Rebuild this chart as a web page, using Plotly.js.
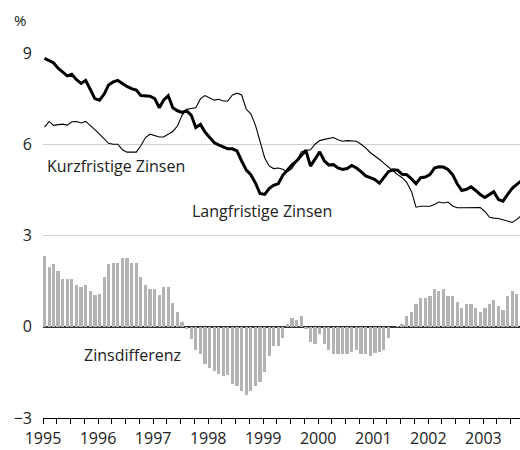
<!DOCTYPE html>
<html>
<head>
<meta charset="utf-8">
<script src="https://cdn.plot.ly/plotly-3.0.1.min.js"></script>
<style>
html,body{margin:0;padding:0;background:#fff;}
#chart{width:520px;height:450px;}
</style>
</head>
<body>
<div id="chart"></div>
<script>
// Monthly series, January 1995 to September 2003
const firstYear = 1995;
const firstMonth = 0;

// Langfristige Zinsen (long-term rates, thick line), %
const longRates = [
  8.82, 8.75, 8.68, 8.50, 8.38, 8.25, 8.30, 8.12, 8.00, 8.10, 7.80, 7.50,
  7.45, 7.65, 7.95, 8.05, 8.10, 8.00, 7.90, 7.83, 7.78, 7.60, 7.60, 7.58,
  7.50, 7.20, 7.45, 7.60, 7.20, 7.10, 7.05, 7.10, 6.95, 6.55, 6.65, 6.40,
  6.22, 6.05, 5.98, 5.90, 5.85, 5.85, 5.78, 5.45, 5.15, 5.00, 4.72, 4.38,
  4.35, 4.55, 4.65, 4.70, 4.98, 5.15, 5.32, 5.45, 5.62, 5.80, 5.28, 5.50,
  5.75, 5.45, 5.32, 5.33, 5.22, 5.17, 5.20, 5.30, 5.22, 5.10, 4.96, 4.90,
  4.84, 4.72, 4.90, 5.10, 5.16, 5.15, 5.01, 5.00, 4.86, 4.70, 4.90, 4.92,
  5.00, 5.22, 5.26, 5.25, 5.17, 5.00, 4.70, 4.48, 4.52, 4.60, 4.48, 4.35,
  4.25, 4.35, 4.44, 4.18, 4.13, 4.35, 4.55, 4.68, 4.80
];

// Kurzfristige Zinsen (short-term rates, thin line), %
const shortRates = [
  6.56, 6.75, 6.62, 6.64, 6.66, 6.63, 6.74, 6.75, 6.70, 6.75, 6.62, 6.48,
  6.33, 6.18, 6.03, 6.00, 6.00, 5.82, 5.74, 5.74, 5.74, 5.95, 6.22, 6.33,
  6.29, 6.24, 6.24, 6.34, 6.42, 6.60, 6.95, 7.15, 7.18, 7.20, 7.50, 7.60,
  7.52, 7.45, 7.48, 7.42, 7.42, 7.62, 7.68, 7.62, 7.15, 7.00, 6.62, 6.05,
  5.55, 5.28, 5.20, 5.22, 5.18, 5.10, 5.20, 5.45, 5.75, 5.80, 5.82, 6.00,
  6.12, 6.16, 6.20, 6.22, 6.15, 6.10, 6.12, 6.12, 6.10, 6.00, 5.88, 5.73,
  5.62, 5.50, 5.38, 5.24, 5.13, 5.00, 4.90, 4.74, 4.45, 3.93, 3.96, 3.96,
  3.96, 4.02, 4.10, 4.07, 4.10, 3.97, 3.91, 3.91, 3.91, 3.91, 3.91, 3.92,
  3.79, 3.60, 3.57, 3.56, 3.52, 3.47, 3.43, 3.53, 3.66
];

// Zinsdifferenz (spread, bars), percentage points
const spread = [
  2.32, 1.97, 2.05, 1.84, 1.57, 1.57, 1.57, 1.37, 1.30, 1.37, 1.17, 1.03,
  1.09, 1.63, 2.05, 2.10, 2.10, 2.25, 2.25, 2.10, 2.10, 1.63, 1.37, 1.24,
  1.24, 1.03, 1.30, 1.30, 0.77, 0.49, 0.15, -0.07, -0.41, -0.76, -0.89, -1.23,
  -1.37, -1.44, -1.56, -1.63, -1.60, -1.87, -1.96, -2.10, -2.23, -2.10, -1.96, -1.80,
  -1.50, -0.96, -0.63, -0.63, -0.36, 0.08, 0.28, 0.22, 0.35, -0.09, -0.50, -0.57,
  -0.24, -0.57, -0.77, -0.89, -0.89, -0.89, -0.89, -0.82, -0.77, -0.89, -0.89, -0.96,
  -0.87, -0.82, -0.76, -0.36, 0.00, 0.02, 0.08, 0.34, 0.47, 0.74, 0.95, 0.95,
  1.02, 1.23, 1.16, 1.23, 1.02, 1.02, 0.82, 0.61, 0.74, 0.74, 0.61, 0.47,
  0.61, 0.74, 0.89, 0.68, 0.55, 1.02, 1.16, 1.08, 1.10
];

const yTickVals = [-3, 0, 3, 6, 9];
const yTickText = ['\u22123', '0', '3', '6', '9'];

const labelShort = 'Kurzfristige Zinsen';
const labelLong = 'Langfristige Zinsen';
const labelSpread = 'Zinsdifferenz';
const unitLabel = '%';

// month positions (placed a third into each month, like the source bars)
function pad(n){ return (n < 10 ? '0' : '') + n; }
const dates = longRates.map(function(_, i){
  const d = new Date(Date.UTC(firstYear, firstMonth + i, 11));
  return d.getUTCFullYear() + '-' + pad(d.getUTCMonth() + 1) + '-' + pad(d.getUTCDate());
});

const FONT = '"Open Sans", "Noto Sans", sans-serif';
const DAY = 86400000;

const traces = [
  {
    type: 'bar', x: dates, y: spread,
    width: 22 * DAY,
    marker: {color: '#b3b3b3', line: {width: 0}},
    hoverinfo: 'skip'
  },
  {
    type: 'scatter', mode: 'lines', x: dates, y: shortRates,
    line: {color: '#000', width: 1.1},
    hoverinfo: 'skip'
  },
  {
    type: 'scatter', mode: 'lines', x: dates, y: longRates,
    line: {color: '#000', width: 3},
    hoverinfo: 'skip'
  }
];

const layout = {
  width: 520, height: 450,
  margin: {l: 43, r: 0, t: 53, b: 32},
  paper_bgcolor: '#fff', plot_bgcolor: '#fff',
  showlegend: false,
  bargap: 0,
  font: {family: FONT, size: 16, color: '#222'},
  xaxis: {
    type: 'date',
    range: ['1995-01-01', '2003-09-01'],
    tick0: '1995-01-01', dtick: 'M12', tickformat: '%Y',
    ticks: 'outside', ticklen: 5, tickwidth: 1, tickcolor: '#000',
    minor: {dtick: 'M3', ticks: 'outside', ticklen: 5, tickwidth: 1, tickcolor: '#000', showgrid: false},
    showline: true, linecolor: '#000', linewidth: 1.3,
    showgrid: false, zeroline: false,
    tickfont: {family: FONT, size: 16, color: '#222'},
    fixedrange: true
  },
  yaxis: {
    range: [-3, 9],
    tickvals: yTickVals, ticktext: yTickText,
    ticks: '', ticklabelstandoff: 10,
    showgrid: true, gridcolor: '#cfcfcf', gridwidth: 1,
    zeroline: true, zerolinecolor: '#333', zerolinewidth: 2,
    showline: false,
    tickfont: {family: FONT, size: 16, color: '#222'},
    fixedrange: true
  },
  annotations: [
    {text: unitLabel, xref: 'paper', yref: 'paper', x: -0.048, y: 1.09,
     xanchor: 'center', yanchor: 'middle', showarrow: false,
     font: {family: FONT, size: 15, color: '#222'}},
    {text: labelShort, xref: 'x', yref: 'y', x: '1995-01-12', y: 5.28,
     xanchor: 'left', yanchor: 'middle', showarrow: false,
     font: {family: FONT, size: 16, color: '#222'}},
    {text: labelLong, xref: 'x', yref: 'y', x: '1997-09-02', y: 3.8,
     xanchor: 'left', yanchor: 'middle', showarrow: false,
     font: {family: FONT, size: 16, color: '#222'}},
    {text: labelSpread, xref: 'x', yref: 'y', x: '1995-09-16', y: -0.93,
     xanchor: 'left', yanchor: 'middle', showarrow: false,
     font: {family: FONT, size: 16, color: '#222'}}
  ]
};

Plotly.newPlot('chart', traces, layout, {staticPlot: true, displayModeBar: false});
</script>
</body>
</html>
